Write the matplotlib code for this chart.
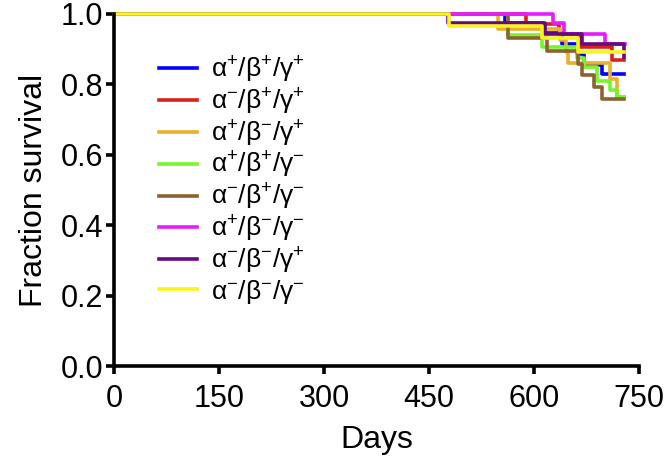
import matplotlib
matplotlib.use("Agg")
import matplotlib.pyplot as plt

plt.rcParams['font.family'] = ['Liberation Sans', 'DejaVu Sans']
plt.rcParams['mathtext.fontset'] = 'custom'
plt.rcParams['mathtext.rm'] = 'Liberation Sans'
plt.rcParams['mathtext.it'] = 'Liberation Sans'

# survival curves (days at each drop, fraction after the drop)
labels = [r'α$^{+}$/β$^{+}$/γ$^{+}$', r'α$^{-}$/β$^{+}$/γ$^{+}$', r'α$^{+}$/β$^{-}$/γ$^{+}$',
          r'α$^{+}$/β$^{+}$/γ$^{-}$', r'α$^{-}$/β$^{+}$/γ$^{-}$', r'α$^{+}$/β$^{-}$/γ$^{-}$',
          r'α$^{-}$/β$^{-}$/γ$^{+}$', r'α$^{-}$/β$^{-}$/γ$^{-}$']
colors = ['#0000ff', '#dd1f1c', '#e8b02c', '#77f52a', '#8c6330', '#e61cff', '#660a80', '#f8f41e']

blue_t = [0, 559, 613, 640, 661, 672, 697, 729]
blue_s = [1.0, 0.975, 0.945, 0.915, 0.885, 0.855, 0.83, 0.83]
red_t = [0, 589, 635, 665, 711, 729]
red_s = [1.0, 0.972, 0.944, 0.905, 0.868, 0.868]
orange_t = [0, 549, 637, 645, 649, 709, 718, 729]
orange_s = [1.0, 0.958, 0.925, 0.893, 0.862, 0.815, 0.765, 0.765]
green_t = [0, 563, 611, 661, 671, 690, 709, 718, 729]
green_s = [1.0, 0.94, 0.907, 0.875, 0.85, 0.81, 0.784, 0.765, 0.765]
brown_t = [0, 563, 618, 663, 668, 685, 697, 729]
brown_s = [1.0, 0.931, 0.895, 0.857, 0.826, 0.793, 0.759, 0.759]
magenta_t = [0, 627, 643, 701, 730]
magenta_s = [1.0, 0.974, 0.942, 0.914, 0.914]
purple_t = [0, 477, 616, 668, 728, 729]
purple_s = [1.0, 0.974, 0.942, 0.916, 0.879, 0.879]
yellow_t = [0, 478, 611, 663, 729]
yellow_s = [1.0, 0.967, 0.931, 0.893, 0.893]

times = [blue_t, red_t, orange_t, green_t, brown_t, magenta_t, purple_t, yellow_t]
survs = [blue_s, red_s, orange_s, green_s, brown_s, magenta_s, purple_s, yellow_s]

fig = plt.figure(figsize=(6.68, 4.65), dpi=100)
ax = fig.add_axes([0.1707, 0.2129, 0.7859, 0.757])

for t, s, c, lab in zip(times, survs, colors, labels):
    ax.step(t, s, where='post', color=c, lw=2.6, label=lab, clip_on=False)

ax.set_xlim(0, 750)
ax.set_ylim(0, 1.0)
ax.set_xticks([0, 150, 300, 450, 600, 750])
ax.set_yticks([0.0, 0.2, 0.4, 0.6, 0.8, 1.0])
ax.set_yticklabels(['0.0', '0.2', '0.4', '0.6', '0.8', '1.0'])
for sp in ['top', 'right']:
    ax.spines[sp].set_visible(False)
for sp in ['left', 'bottom']:
    ax.spines[sp].set_linewidth(2.6)
ax.tick_params(width=2.6, length=6, labelsize=22)
ax.tick_params(axis='x', pad=7)
ax.tick_params(axis='y', pad=2)
ax.set_xlabel('Days', fontsize=23, labelpad=8)
ax.set_ylabel('Fraction survival', fontsize=23, labelpad=8)

ax.legend(loc='upper left', bbox_to_anchor=(0.065, 0.915), frameon=False, fontsize=19,
          handlelength=1.45, handletextpad=0.55, labelspacing=0.06, borderaxespad=0)

fig.savefig('out.png', dpi=100)
